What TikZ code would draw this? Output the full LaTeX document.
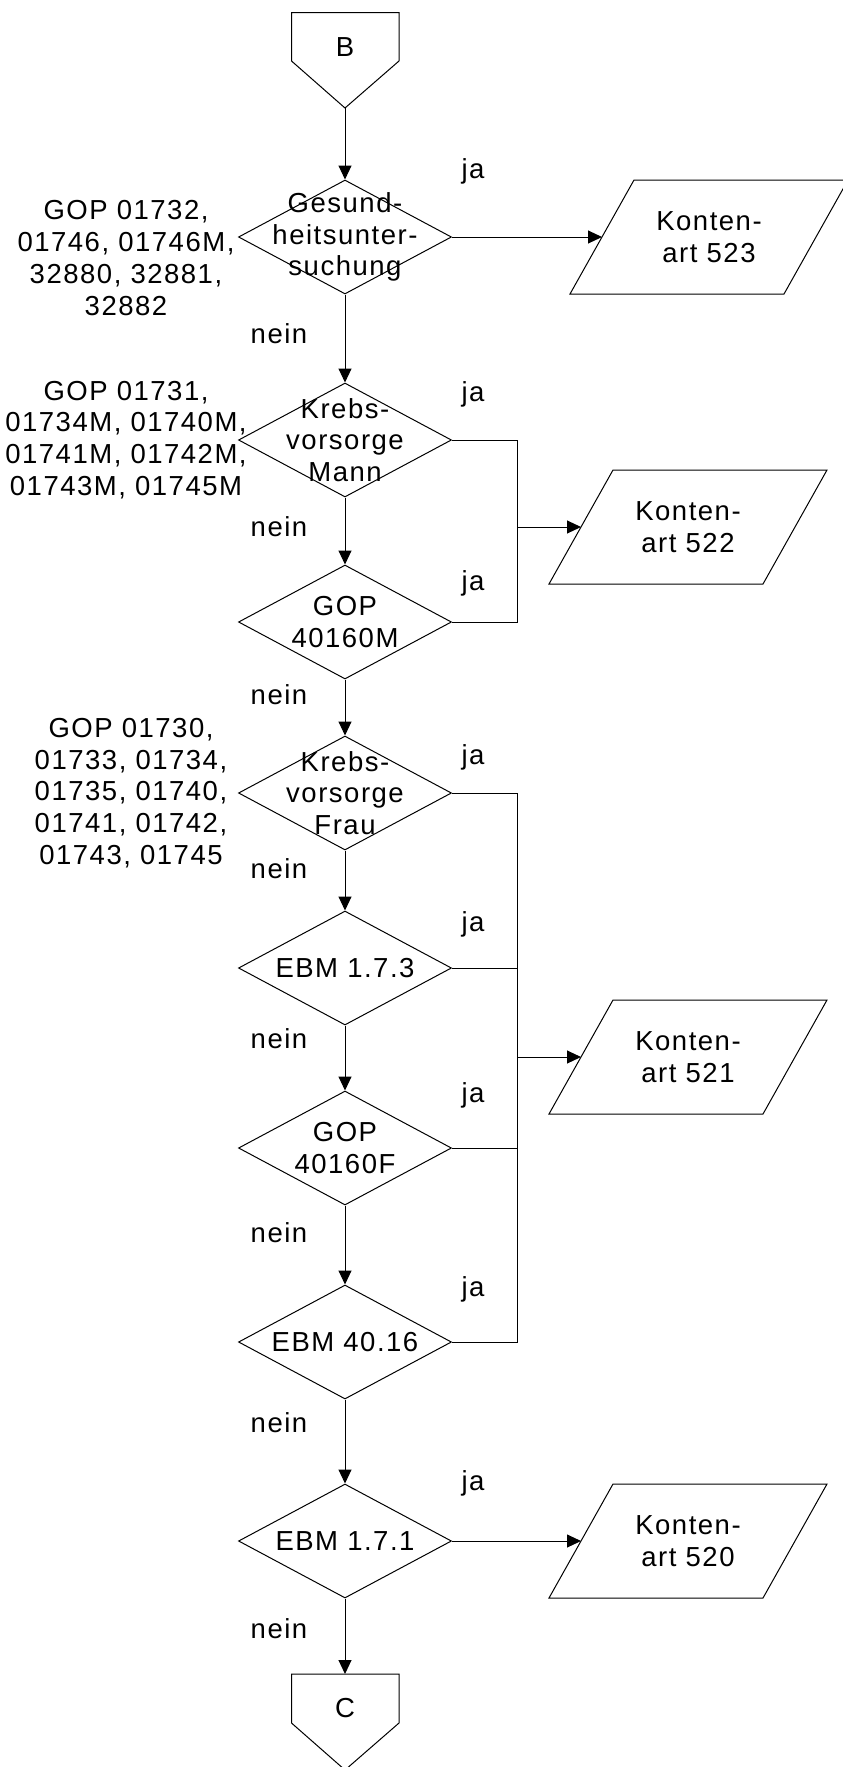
\documentclass[tikz,border=0pt]{standalone}
\usepackage{fontspec}
\setmainfont{Liberation Sans}[LetterSpace=5.5]
\usetikzlibrary{shapes.geometric,arrows.meta}
\begin{document}
\begin{tikzpicture}[x=1pt,y=-1pt,line width=1pt,
  dia/.style={diamond,draw,minimum width=213pt,minimum height=114pt,inner sep=0pt},
  txt/.style={font=\fontsize{27.5}{31.7}\selectfont,align=center,inner sep=0pt},
  arr/.style={-{Triangle[length=14pt,width=13pt]}}]
\useasboundingbox (0,0) rectangle (843,1767);
% connectors B and C
\node[txt] (B) at (345,47) {B};
\draw (291.5,12.7) -- (399,12.7) -- (399,61) -- (345,108) -- (291.5,61) -- cycle;
\coordinate (btip) at (345,108);
\node[txt] (C) at (345,1708) {C};
\draw (291.5,1674) -- (399,1674) -- (399,1723) -- (345,1770) -- (291.5,1723) -- cycle;
\coordinate (ctop) at (345,1674);
% diamonds
\node[dia] (d1) at (345,237) {};
\node[dia] (d2) at (345,440) {};
\node[dia] (d3) at (345,622) {};
\node[dia] (d4) at (345,793) {};
\node[dia] (d5) at (345,968) {};
\node[dia] (d6) at (345,1148) {};
\node[dia] (d7) at (345,1342) {};
\node[dia] (d8) at (345,1541) {};
\node[txt] (t1) at (d1) {Gesund-\\heitsunter-\\suchung};
\node[txt] (t2) at (d2) {Krebs-\\vorsorge\\Mann};
\node[txt] (t3) at (d3) {GOP\\40160M};
\node[txt] (t4) at (d4) {Krebs-\\vorsorge\\Frau};
\node[txt] (t5) at (d5) {EBM 1.7.3};
\node[txt] (t6) at (d6) {GOP\\40160F};
\node[txt] (t7) at (d7) {EBM 40.16};
\node[txt] (t8) at (d8) {EBM 1.7.1};
% left notes
\node[txt] (g1) at (126,258) {GOP 01732,\\01746, 01746M,\\32880, 32881,\\32882};
\node[txt] (g2) at (126,440) {GOP 01731,\\01734M, 01740M,\\01741M, 01742M,\\01743M, 01745M};
\node[txt] (g3) at (131,793) {GOP 01730,\\01733, 01734,\\01735, 01740,\\01741, 01742,\\01743, 01745};
% ja / nein
\foreach \y/\n in {171/1,394/2,583/3,757/4,924/5,1095/6,1289/7,1483/8}
  \node[txt] (ja\n) at (473,\y) {ja};
\foreach \y/\n in {334/1,527/2,695/3,869/4,1039/5,1233/6,1423/7,1629/8}
  \node[txt] (nein\n) at (279,\y) {nein};
% outputs
\foreach \cx/\cy/\k in {709/237/523,688/527/522,688/1057/521,688/1541/520}{
  \node[txt] (k\k) at (\cx,\cy) {Konten-\\art \k};
  \draw ([shift={(-75,-57)}]k\k.center) -- ++(214,0) -- ++(-64,114) -- ++(-214,0) -- cycle;
  \coordinate (k\k w) at ([xshift=-107pt]k\k.center);
}
% main flow
\draw[arr] (btip) -- (d1.north);
\draw[arr] (d1.south) -- (d2.north);
\draw[arr] (d2.south) -- (d3.north);
\draw[arr] (d3.south) -- (d4.north);
\draw[arr] (d4.south) -- (d5.north);
\draw[arr] (d5.south) -- (d6.north);
\draw[arr] (d6.south) -- (d7.north);
\draw[arr] (d7.south) -- (d8.north);
\draw[arr] (d8.south) -- (ctop);
% yes branches
\draw[arr] (d1.east) -- (k523w);
\coordinate (bus1) at (517,527);
\draw (d2.east) -| (bus1);
\draw (d3.east) -| (bus1);
\draw[arr] (bus1) -- (k522w);
\coordinate (bus2) at (517,1057);
\draw (d4.east) -| (bus2);
\draw (d7.east) -| (bus2);
\draw (d5.east) -- (d5.east -| bus2);
\draw (d6.east) -- (d6.east -| bus2);
\draw[arr] (bus2) -- (k521w);
\draw[arr] (d8.east) -- (k520w);
\end{tikzpicture}
\end{document}
